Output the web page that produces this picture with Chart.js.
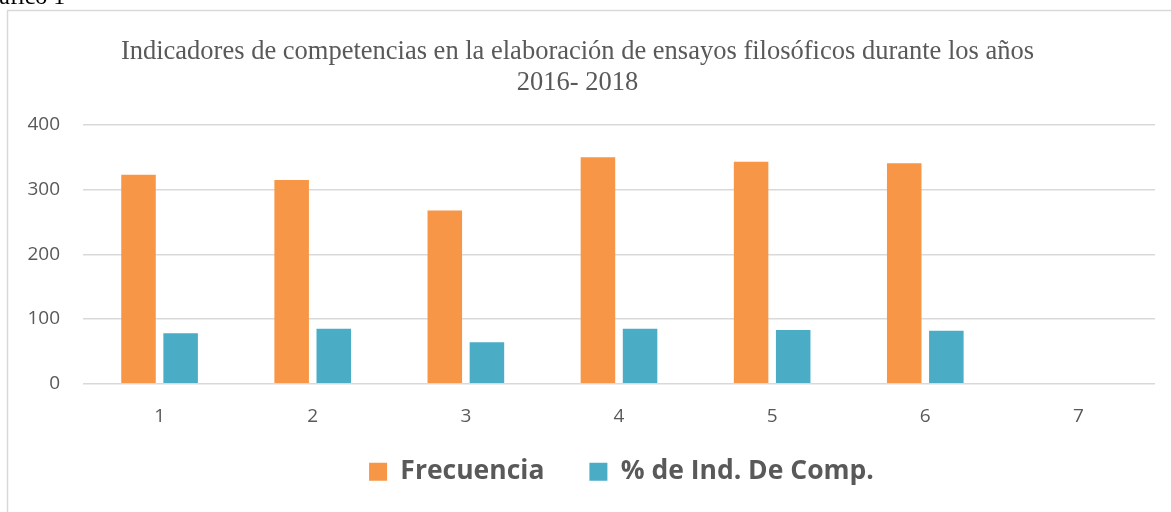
<!DOCTYPE html>
<html>
<head>
<meta charset="utf-8">
<script src="https://cdn.jsdelivr.net/npm/chart.js@4"></script>
<style>
  html, body { margin: 0; padding: 0; background: #ffffff; }
  #wrap { position: relative; width: 1171px; height: 512px; }
</style>
</head>
<body>
<div id="wrap"><canvas id="chart" width="1171" height="512"></canvas></div>
<script>
// Indicadores por año (categorías 1–7)
const categories = ['1', '2', '3', '4', '5', '6', '7'];
const frecuencia = [323, 315, 268, 350, 343, 341, null];
const indComp = [78, 85, 64, 85, 83, 82, null];
const yTicks = [0, 100, 200, 300, 400];

const titleLines = [
  'Indicadores de competencias en la elaboración de ensayos filosóficos durante los años',
  '2016- 2018'
];

const GRID = '#d9d9d9';
const TEXT = '#595959';

// Frame around the chart plus the caption above it
const framePlugin = {
  id: 'frame',
  beforeDraw(chart) {
    const ctx = chart.ctx;
    ctx.save();
    ctx.fillStyle = '#ffffff';
    ctx.fillRect(0, 0, chart.width, chart.height);
    ctx.strokeStyle = GRID;
    ctx.lineWidth = 1.5;
    ctx.beginPath();
    ctx.moveTo(7.5, chart.height);
    ctx.lineTo(7.5, 10.5);
    ctx.lineTo(chart.width, 10.5);
    ctx.stroke();
    ctx.fillStyle = '#000000';
    ctx.font = '24px "Liberation Serif", "Times New Roman", serif';
    ctx.textBaseline = 'alphabetic';
    ctx.textAlign = 'left';
    ctx.fillText('Gráfico 1', -26, 4);
    ctx.restore();
  }
};

// Legend sits a little right of the page centre and close under the axis labels
const legendShift = {
  id: 'legendShift',
  afterLayout(chart) {
    const lg = chart.legend;
    if (lg) {
      lg.left += 44; lg.right += 44;
      lg.top -= 35; lg.bottom -= 35;
    }
  }
};

new Chart(document.getElementById('chart'), {
  type: 'bar',
  data: {
    labels: categories,
    datasets: [
      {
        label: 'Frecuencia',
        data: frecuencia,
        backgroundColor: '#F79646',
        categoryPercentage: 0.55,
        barPercentage: 0.82
      },
      {
        label: '% de Ind. De Comp.',
        data: indComp,
        backgroundColor: '#4BACC6',
        categoryPercentage: 0.55,
        barPercentage: 0.82
      }
    ]
  },
  options: {
    responsive: false,
    animation: false,
    layout: { padding: { top: 37, right: 16, bottom: -18, left: 0 } },
    plugins: {
      title: {
        display: true,
        text: titleLines,
        color: TEXT,
        font: { family: '"Liberation Serif", "Times New Roman", serif', size: 26.5, weight: 'normal', lineHeight: 1.17 },
        padding: { top: 0, bottom: 26 }
      },
      legend: {
        display: true,
        position: 'bottom',
        labels: {
          color: TEXT,
          font: { family: '"Open Sans", sans-serif', size: 26.5, weight: 'bold' },
          boxWidth: 18,
          boxHeight: 18,
          padding: 45
        }
      },
      tooltip: { enabled: false }
    },
    scales: {
      x: {
        grid: { display: false, drawTicks: false },
        border: { display: false },
        ticks: {
          color: TEXT,
          font: { family: '"Open Sans", sans-serif', size: 19 },
          padding: 21
        }
      },
      y: {
        min: 0,
        max: 400,
        afterBuildTicks(scale) {
          scale.ticks = yTicks.map(v => ({ value: v }));
        },
        afterFit(scale) { scale.width = 83; },
        grid: { color: GRID, lineWidth: 1.5, drawTicks: false },
        border: { display: false },
        ticks: {
          color: TEXT,
          font: { family: '"Open Sans", sans-serif', size: 19 },
          padding: 23
        }
      }
    }
  },
  plugins: [framePlugin, legendShift]
});
</script>
</body>
</html>
